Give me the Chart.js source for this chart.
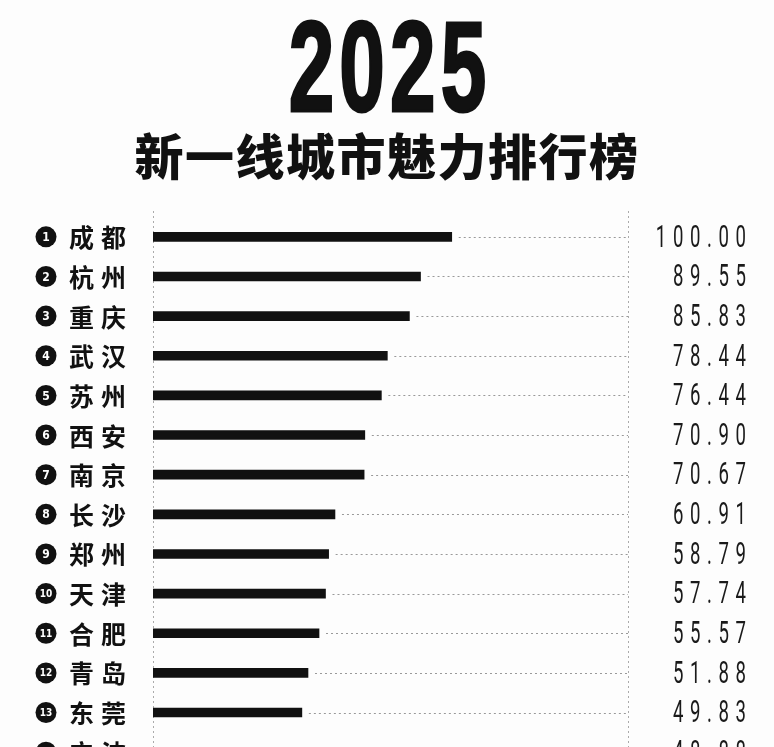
<!DOCTYPE html>
<html>
<head>
<meta charset="utf-8">
<script src="https://cdn.jsdelivr.net/npm/chart.js@4.4.1/dist/chart.umd.min.js"></script>
<style>
  html, body { margin: 0; padding: 0; background: #fdfdfd; overflow: hidden; }
  #wrap { position: relative; width: 774px; height: 747px; overflow: hidden; }
  #year {
    position: absolute; left: 3px; width: 774px; top: -7px; text-align: center;
    font: bold 128px "Liberation Sans", sans-serif; color: #111;
    transform: scaleX(0.64); -webkit-text-stroke: 3px #111; letter-spacing: 8px;
  }
  #sub {
    position: absolute; left: 0; width: 774px; top: 118px; text-align: center;
    font: 900 49px "Noto Sans CJK SC", sans-serif; color: #111; letter-spacing: 1.5px;
  }
  #box { position: absolute; left: 0; top: 0; width: 774px; height: 790px; }
</style>
</head>
<body>
<div id="wrap">
  <div id="year">2025</div>
  <div id="sub">新一线城市魅力排行榜</div>
  <div id="box"><canvas id="rankChart"></canvas></div>
</div>
<script>
// data
const cities = ["成都", "杭州", "重庆", "武汉", "苏州", "西安", "南京", "长沙", "郑州", "天津", "合肥", "青岛", "东莞", "宁波"];
const scores = [100.00, 89.55, 85.83, 78.44, 76.44, 70.90, 70.67, 60.91, 58.79, 57.74, 55.57, 51.88, 49.83, 48.88];
const ranks = cities.map((c, i) => String(i + 1));
const axisMax = 159;

// labels, leader dots and score text
const rankDecor = {
  id: "rankDecor",
  beforeDatasetsDraw(chart) {
    const { ctx, chartArea, scales: { x } } = chart;
    const xl = x.getPixelForValue(0);
    const xr = x.getPixelForValue(axisMax);
    ctx.save();
    ctx.strokeStyle = "#aaa";
    ctx.lineWidth = 1;
    ctx.setLineDash([2, 3]);
    [xl, xr].forEach(px => {
      ctx.beginPath();
      ctx.moveTo(Math.round(px) + 0.5, chartArea.top - 6);
      ctx.lineTo(Math.round(px) + 0.5, chartArea.bottom);
      ctx.stroke();
    });
    ctx.restore();
  },
  afterDatasetsDraw(chart) {
    const { ctx, scales: { x, y } } = chart;
    const meta = chart.getDatasetMeta(0);
    const xr = x.getPixelForValue(axisMax);
    ctx.save();
    meta.data.forEach((bar, i) => {
      const cy = y.getPixelForValue(i);
      // dotted leader
      ctx.strokeStyle = "#999";
      ctx.lineWidth = 1;
      ctx.setLineDash([2, 3]);
      ctx.beginPath();
      ctx.moveTo(bar.x + 7, Math.round(cy) + 0.5);
      ctx.lineTo(xr, Math.round(cy) + 0.5);
      ctx.stroke();
      ctx.setLineDash([]);

      // rank badge
      ctx.fillStyle = "#111";
      ctx.beginPath();
      ctx.arc(46, cy, 10.5, 0, Math.PI * 2);
      ctx.fill();
      ctx.fillStyle = "#fff";
      ctx.font = "bold " + (ranks[i].length > 1 ? 10 : 12) + "px 'DejaVu Sans Condensed', 'DejaVu Sans'";
      ctx.textAlign = "center";
      ctx.textBaseline = "middle";
      ctx.fillText(ranks[i], 46, cy + 1);

      // city name
      ctx.fillStyle = "#111";
      ctx.font = "bold 25px 'Noto Sans CJK SC'";
      ctx.textAlign = "left";
      ctx.letterSpacing = "7px";
      ctx.fillText(cities[i], 69, cy + 1);
      ctx.letterSpacing = "0px";

      // score, condensed digits
      const txt = scores[i].toFixed(2);
      ctx.save();
      const sx = 0.6;
      ctx.scale(sx, 1);
      ctx.font = "400 31px Roboto";
      ctx.letterSpacing = "11px";
      ctx.textAlign = "left";
      const w = ctx.measureText(txt).width - 11;
      ctx.fillStyle = "#1a1a1a";
      ctx.fillText(txt, 746 / sx - w, cy + 2);
      ctx.restore();
    });
    ctx.restore();
  }
};

new Chart(document.getElementById("rankChart"), {
  type: "bar",
  data: {
    labels: cities,
    datasets: [{
      data: scores,
      backgroundColor: "#111",
      barThickness: 9,
      borderSkipped: false
    }]
  },
  options: {
    indexAxis: "y",
    responsive: true,
    maintainAspectRatio: false,
    animation: false,
    layout: { padding: { top: 217, right: 146, bottom: 18, left: 0 } },
    scales: {
      x: {
        min: 0, max: axisMax,
        display: false
      },
      y: {
        ticks: { display: false },
        grid: { display: false },
        border: { display: false },
        afterFit: scale => { scale.width = 153; }
      }
    },
    plugins: {
      legend: { display: false },
      tooltip: { enabled: false }
    }
  },
  plugins: [rankDecor]
});
</script>
</body>
</html>
